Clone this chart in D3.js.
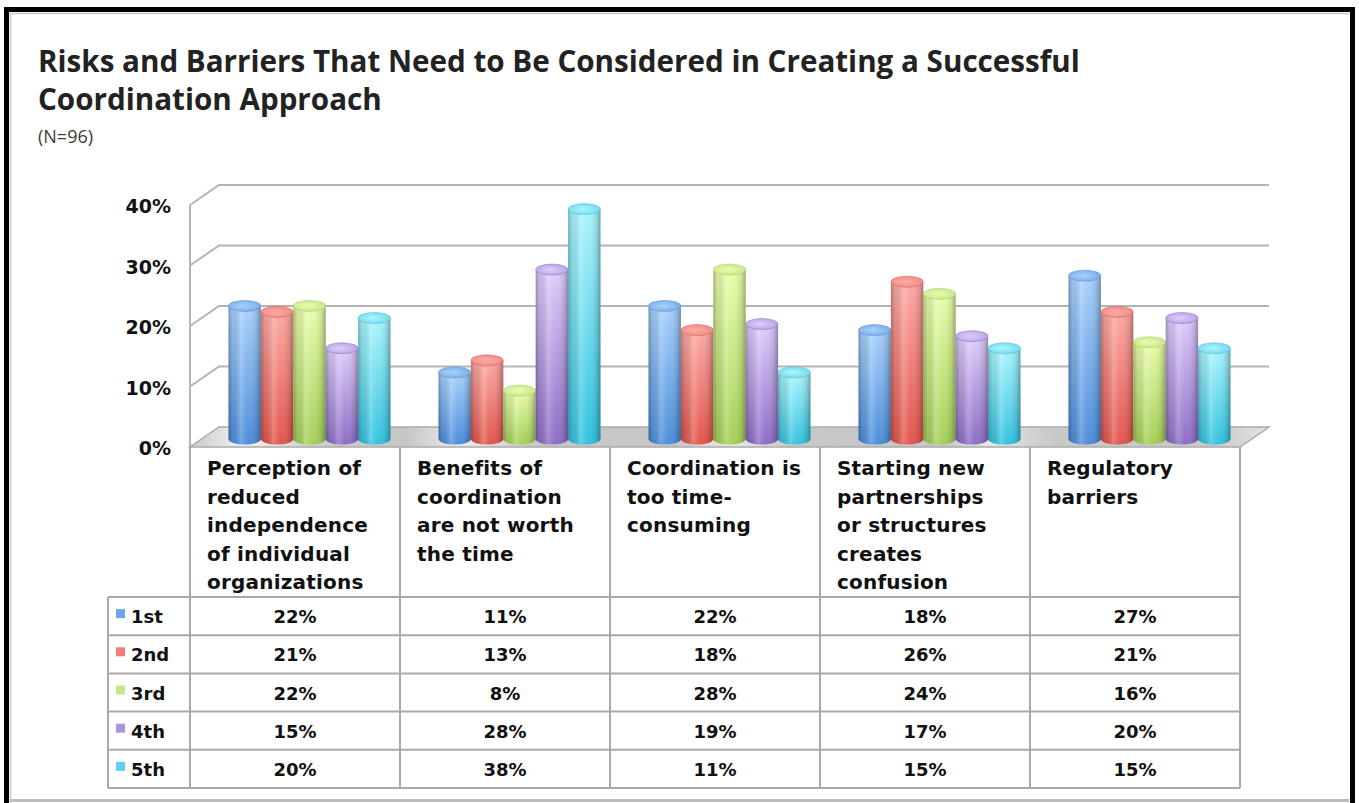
<!DOCTYPE html>
<html>
<head>
<meta charset="utf-8">
<script src="https://cdn.jsdelivr.net/npm/d3@7"></script>
<style>
  html, body { margin: 0; padding: 0; background: #ffffff; }
  svg { display: block; }
</style>
</head>
<body>
<svg id="chart" width="1359" height="803"></svg>
<script>
// ---- data ----
const categoryLines = [
  ["Perception of", "reduced", "independence", "of individual", "organizations"],
  ["Benefits of", "coordination", "are not worth", "the time"],
  ["Coordination is", "too time-", "consuming"],
  ["Starting new", "partnerships", "or structures", "creates", "confusion"],
  ["Regulatory", "barriers"]
];
const seriesNames = ["1st", "2nd", "3rd", "4th", "5th"];
const first  = [22, 11, 22, 18, 27];
const second = [21, 13, 18, 26, 21];
const third  = [22,  8, 28, 24, 16];
const fourth = [15, 28, 19, 17, 20];
const fifth  = [20, 38, 11, 15, 15];
const yTicks = [0, 10, 20, 30, 40];

const seriesValues = [first, second, third, fourth, fifth];
// light top, base, cap and swatch colours per series
const palette = [
  { top: "#a9d2fb", base: "#4c8ddb", cap: "#78aae8", swatch: "#6ea6ea" },
  { top: "#fdaaa4", base: "#e2554d", cap: "#ee8a84", swatch: "#f07d77" },
  { top: "#e9fdab", base: "#a3cf58", cap: "#c6e48c", swatch: "#c3e78a" },
  { top: "#ddcdfb", base: "#8d6dc6", cap: "#b7a0e2", swatch: "#ab93dd" },
  { top: "#abf5fd", base: "#33c2df", cap: "#72d8ec", swatch: "#5fd1ea" }
];

const svg = d3.select("#chart");
const defs = svg.append("defs");

// ---- frame ----
svg.append("rect").attr("x", 0).attr("y", 0).attr("width", 1359).attr("height", 803).attr("fill", "#fff");
svg.append("path").attr("d", "M6.5,803 V9.5 H1352.5 V803")
  .attr("fill", "none").attr("stroke", "#000").attr("stroke-width", 5);
svg.append("path").attr("d", "M10.5,803 V13.5 H1349")
  .attr("fill", "none").attr("stroke", "#c8c8c8").attr("stroke-width", 1.5);
svg.append("line").attr("x1", 10).attr("x2", 1349).attr("y1", 800.5).attr("y2", 800.5)
  .attr("stroke", "#bdbdbd").attr("stroke-width", 3);

// ---- titles ----
const fitText = (sel, width) => {
  const w = sel.node().getComputedTextLength();
  const fs = parseFloat(sel.attr("font-size"));
  sel.attr("font-size", fs * width / w);
};
const t1 = svg.append("text").attr("x", 38).attr("y", 72)
  .attr("font-family", "'Open Sans', sans-serif").attr("font-weight", 700)
  .attr("font-size", 25).attr("fill", "#222")
  .text("Risks and Barriers That Need to Be Considered in Creating a Successful");
fitText(t1, 1042);
const fsTitle = parseFloat(t1.attr("font-size"));
svg.append("text").attr("x", 38).attr("y", 110)
  .attr("font-family", "'Open Sans', sans-serif").attr("font-weight", 700)
  .attr("font-size", fsTitle).attr("fill", "#222")
  .text("Coordination Approach");
svg.append("text").attr("x", 38).attr("y", 143)
  .attr("font-family", "'Open Sans', sans-serif").attr("font-size", 18).attr("fill", "#3a3a3a")
  .text("(N=96)");

// ---- scales ----
const x = d3.scaleBand().domain(d3.range(categoryLines.length)).range([190, 1240]).padding(0);
const groupW = 162;
const xs = d3.scaleBand().domain(d3.range(seriesNames.length)).range([0, groupW]).padding(0);
const y = d3.scaleLinear().domain([0, 40]).range([447, 205]);
const DX = 29, DY = -20;            // depth of the back wall
const BX = 14.5, BY = -8;           // bars stand about half way into the depth
const gridCol = "#b4b4b4";

// ---- walls and gridlines ----
const grid = svg.append("g");
yTicks.forEach(t => {
  const yf = y(t), yb = y(t) + DY;
  if (t > 0) {
    grid.append("path")
      .attr("d", `M${x.range()[0]},${yf} L${x.range()[0] + DX},${yb} H${x.range()[1] + DX}`)
      .attr("fill", "none").attr("stroke", gridCol).attr("stroke-width", 2);
  }
});
grid.append("line").attr("x1", 190).attr("x2", 190).attr("y1", y(40)).attr("y2", y(0))
  .attr("stroke", gridCol).attr("stroke-width", 2);

// floor
const floorGrad = defs.append("linearGradient").attr("id", "floorGrad")
  .attr("x1", 0).attr("x2", 1).attr("y1", 0).attr("y2", 0);
[[0, "#cacaca"], [0.05, "#f2f2f2"], [0.12, "#cccccc"], [0.2, "#c6c6c6"], [0.25, "#ececec"],
 [0.32, "#c8c8c8"], [0.45, "#c6c6c6"], [0.5, "#eaeaea"], [0.56, "#c8c8c8"], [0.7, "#c6c6c6"],
 [0.74, "#e8e8e8"], [0.8, "#c8c8c8"], [0.95, "#cacaca"], [1, "#e4e4e4"]]
  .forEach(([o, c]) => floorGrad.append("stop").attr("offset", o).attr("stop-color", c));
svg.append("path")
  .attr("d", `M190,${y(0)} L1240,${y(0)} L${1240 + DX},${y(0) + DY} L${190 + DX},${y(0) + DY} Z`)
  .attr("fill", "url(#floorGrad)").attr("stroke", "#ababab").attr("stroke-width", 1.5);

// y axis labels
svg.append("g").selectAll("text").data(yTicks).join("text")
  .attr("x", 171).attr("y", d => y(d) + 8).attr("text-anchor", "end")
  .attr("font-family", "'DejaVu Sans', sans-serif").attr("font-weight", 700)
  .attr("font-size", 19).attr("fill", "#111")
  .text(d => d + "%");

// ---- cylinder gradients ----
palette.forEach((p, i) => {
  const g = defs.append("linearGradient").attr("id", "body" + i)
    .attr("x1", 0).attr("x2", 0).attr("y1", 0).attr("y2", 1);
  g.append("stop").attr("offset", 0).attr("stop-color", p.top);
  g.append("stop").attr("offset", 1).attr("stop-color", p.base);
  const c = defs.append("radialGradient").attr("id", "cap" + i)
    .attr("cx", 0.45).attr("cy", 0.5).attr("r", 0.6);
  c.append("stop").attr("offset", 0).attr("stop-color", p.top);
  c.append("stop").attr("offset", 1).attr("stop-color", p.cap);
});
const shade = defs.append("linearGradient").attr("id", "shade")
  .attr("x1", 0).attr("x2", 1).attr("y1", 0).attr("y2", 0);
[[0, "#000", 0.28], [0.12, "#000", 0.08], [0.38, "#fff", 0.22], [0.6, "#fff", 0.0],
 [0.88, "#000", 0.12], [1, "#000", 0.32]]
  .forEach(([o, c, a]) => shade.append("stop").attr("offset", o).attr("stop-color", c).attr("stop-opacity", a));

// ---- bars ----
const ry = 5.5;
const barData = [];
categoryLines.forEach((_, ci) => {
  seriesValues.forEach((vals, si) => {
    barData.push({ ci, si, v: vals[ci] });
  });
});
const barX = d => x(d.ci) + (x.bandwidth() - groupW) / 2 + BX + xs(d.si);
const bars = svg.append("g").selectAll("g").data(barData).join("g");
const bodyPath = d => {
  const x0 = barX(d);
  const w = xs.bandwidth();
  const yb = y(0) + BY, yt = y(d.v) + BY;
  return `M${x0},${yt} L${x0},${yb} A${w / 2},${ry} 0 0 0 ${x0 + w},${yb} L${x0 + w},${yt} Z`;
};
bars.append("path").attr("d", bodyPath).attr("fill", d => `url(#body${d.si})`);
bars.append("path").attr("d", bodyPath).attr("fill", "url(#shade)");
bars.append("ellipse")
  .attr("cx", d => barX(d) + xs.bandwidth() / 2)
  .attr("cy", d => y(d.v) + BY)
  .attr("rx", xs.bandwidth() / 2).attr("ry", ry)
  .attr("fill", d => `url(#cap${d.si})`)
  .attr("stroke", d => palette[d.si].base).attr("stroke-opacity", 0.5).attr("stroke-width", 1);

// ---- data table ----
const tableTop = 597, tableBottom = 788, labelLeft = 108;
const row = d3.scaleBand().domain(d3.range(seriesNames.length)).range([tableTop, tableBottom]);
const tbl = svg.append("g");
const lineCol = "#a9a9a9";

// category header text
categoryLines.forEach((lines, ci) => {
  const tx = tbl.append("text")
    .attr("font-family", "'DejaVu Sans', sans-serif").attr("font-weight", 700)
    .attr("font-size", 20).attr("letter-spacing", 0.2).attr("fill", "#111");
  lines.forEach((ln, li) => {
    tx.append("tspan").attr("x", x(ci) + 17).attr("y", 475 + li * 28.5).text(ln);
  });
});

// grid lines
x.domain().concat([x.domain().length]).forEach(i => {
  const xx = i < x.domain().length ? x(i) : x.range()[1];
  tbl.append("line").attr("x1", xx).attr("x2", xx).attr("y1", y(0)).attr("y2", tableBottom)
    .attr("stroke", lineCol).attr("stroke-width", 2);
});
tbl.append("line").attr("x1", labelLeft).attr("x2", labelLeft).attr("y1", tableTop).attr("y2", tableBottom)
  .attr("stroke", lineCol).attr("stroke-width", 2);
row.domain().concat([row.domain().length]).forEach(i => {
  const yy = i < row.domain().length ? row(i) : tableBottom;
  tbl.append("line").attr("x1", labelLeft).attr("x2", x.range()[1]).attr("y1", yy).attr("y2", yy)
    .attr("stroke", lineCol).attr("stroke-width", 2);
});

// legend keys and values
seriesNames.forEach((name, si) => {
  const cy = row(si) + row.bandwidth() / 2;
  tbl.append("rect").attr("x", 116).attr("y", cy - 7).attr("width", 9).attr("height", 9)
    .attr("fill", palette[si].swatch);
  tbl.append("text").attr("x", 131).attr("y", cy + 7)
    .attr("font-family", "'DejaVu Sans', sans-serif").attr("font-weight", 700)
    .attr("font-size", 18).attr("fill", "#111").text(name);
  seriesValues[si].forEach((v, ci) => {
    tbl.append("text").attr("x", x(ci) + x.bandwidth() / 2).attr("y", cy + 7)
      .attr("text-anchor", "middle")
      .attr("font-family", "'DejaVu Sans', sans-serif").attr("font-weight", 700)
      .attr("font-size", 18).attr("fill", "#111").text(v + "%");
  });
});
</script>
</body>
</html>
